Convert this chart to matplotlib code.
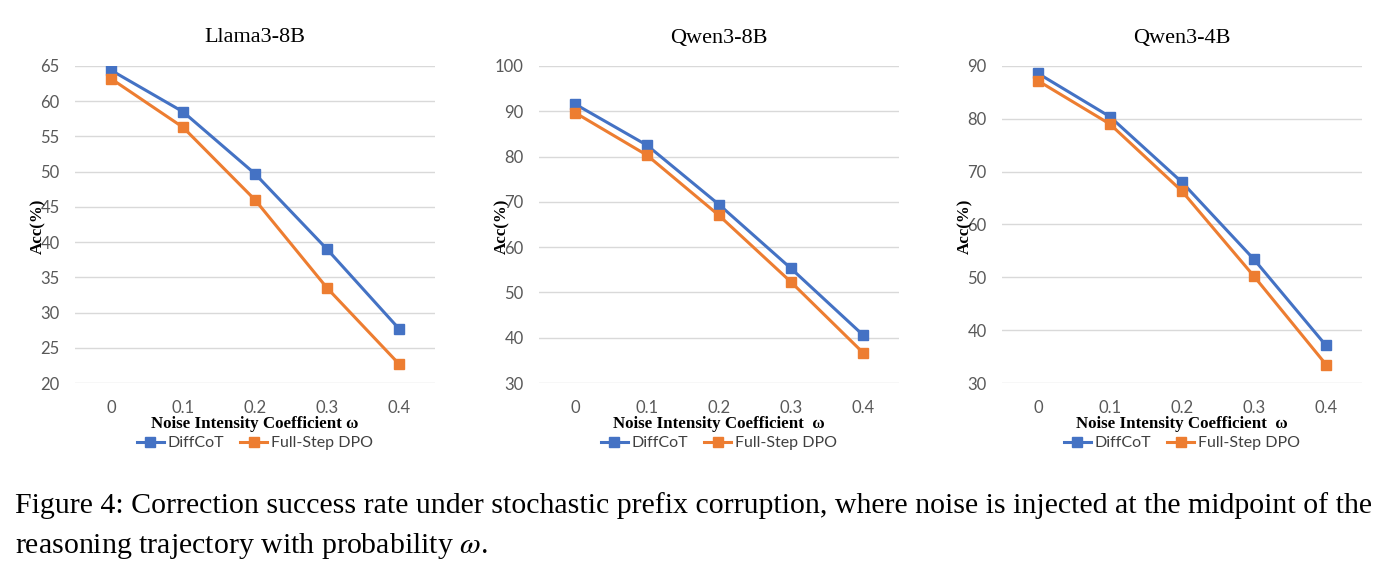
import numpy as np
import matplotlib
matplotlib.use('Agg')
import matplotlib.pyplot as plt

plt.rcParams['mathtext.fontset'] = 'stix'

noise = ['0', '0.1', '0.2', '0.3', '0.4']
titles = ['Llama3-8B', 'Qwen3-8B', 'Qwen3-4B']

diffcot = [
    [64.4, 58.5, 49.7, 39.0, 27.7],
    [91.6, 82.5, 69.4, 55.3, 40.6],
    [88.6, 80.4, 68.0, 53.4, 37.1],
]
fullstep = [
    [63.2, 56.3, 46.0, 33.5, 22.7],
    [89.7, 80.3, 67.0, 52.3, 36.7],
    [87.2, 79.0, 66.3, 50.2, 33.5],
]
ylims = [(20, 65), (30, 100), (30, 90)]
ysteps = [5, 10, 10]
xlabels = ['Noise Intensity Coefficient ω', 'Noise Intensity Coefficient  ω',
           'Noise Intensity Coefficient  ω']

W, H = 1392, 574
fig = plt.figure(figsize=(W / 100, H / 100), dpi=100)

blue = '#4472C4'
orange = '#ED7D31'
lefts = [75, 539, 1002]
top, bottom = 66, 383
aw = 360

for i in range(3):
    ax = fig.add_axes([lefts[i] / W, (H - bottom) / H, aw / W, (bottom - top) / H])
    x = np.arange(len(noise))
    l1, = ax.plot(x, diffcot[i], color=blue, lw=2.2, marker='s', ms=7.5,
                  label='DiffCoT', zorder=3)
    l2, = ax.plot(x, fullstep[i], color=orange, lw=2.2, marker='s', ms=7.5,
                  label='Full-Step DPO', zorder=3)
    ax.set_xlim(-0.5, 4.5)
    lo, hi = ylims[i]
    ax.set_ylim(lo, hi)
    ax.set_yticks(np.arange(lo, hi + 0.1, ysteps[i]))
    ax.set_xticks(x)
    ax.set_xticklabels(noise)
    ax.grid(axis='y', color='#D9D9D9', lw=1.0)
    ax.set_axisbelow(True)
    for s in ax.spines.values():
        s.set_visible(False)
    ax.tick_params(length=0, labelsize=12, labelcolor='#595959')
    ax.tick_params(axis='x', pad=12)
    ax.tick_params(axis='y', pad=11)
    for lab in ax.get_xticklabels() + ax.get_yticklabels():
        lab.set_family('Lato')

    cx = (lefts[i] + aw / 2) / W
    fig.text(cx, 1 - 38 / H, titles[i], ha='center', va='center',
             family='Liberation Serif', fontsize=16)
    fig.text(cx, 1 - 424 / H, xlabels[i], ha='center', va='center',
             family='Liberation Serif', fontsize=12.2, weight='bold')
    fig.text((lefts[i] - 37) / W, 1 - 226 / H, 'Acc(%)', ha='center', va='center',
             rotation=90, family='Liberation Serif', fontsize=12.2, weight='bold')
    leg = ax.legend(handles=[l1, l2], loc='center', ncol=2, frameon=False,
                    bbox_to_anchor=(cx, 1 - 443 / H), bbox_transform=fig.transFigure,
                    prop={'family': 'Lato', 'size': 11.5},
                    handlelength=1.7, columnspacing=1.0, handletextpad=0.25,
                    borderpad=0.2)
    for t in leg.get_texts():
        t.set_color('#404040')

fig.text(15 / W, 1 - 506 / H,
         'Figure 4: Correction success rate under stochastic prefix corruption, '
         'where noise is injected at the midpoint of the',
         ha='left', va='center', family='Liberation Serif', fontsize=21.5)
fig.text(15 / W, 1 - 546 / H,
         r'reasoning trajectory with probability $\omega$.',
         ha='left', va='center', family='Liberation Serif', fontsize=21.5)

fig.savefig('out.png', dpi=100)
